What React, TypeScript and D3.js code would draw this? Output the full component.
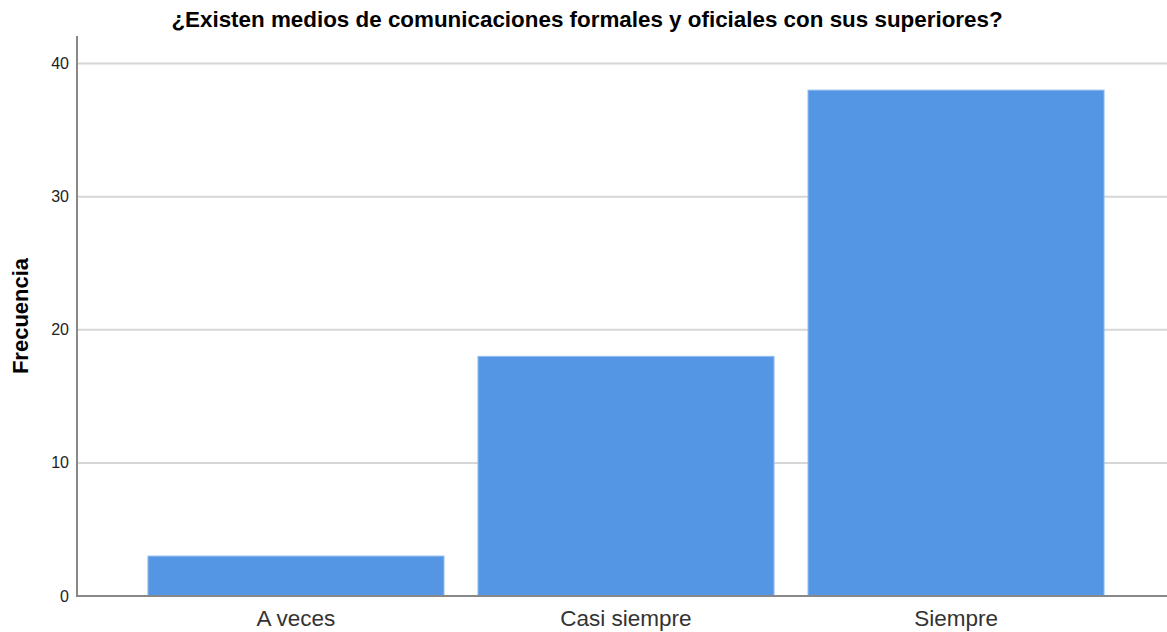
import React from "react";
import * as d3 from "d3";

const categories = ["A veces", "Casi siempre", "Siempre"];
const values = [3, 18, 38];
const yTicks = [0, 10, 20, 30, 40];
const title = "¿Existen medios de comunicaciones formales y oficiales con sus superiores?";
const yLabel = "Frecuencia";

export default function App() {
  const W = 1167, H = 632;
  const x = d3.scaleBand<string>().domain(categories).range([77, 1175]).paddingInner(0.103).paddingOuter(0.215);
  const y = d3.scaleLinear().domain([0, 40]).range([596, 63.5]);
  const font = "'Liberation Sans', Arial, sans-serif";
  return (
    <svg width={W} height={H} style={{ position: "absolute", left: 0, top: 0, background: "#fff" }}>
      <text x={587} y={27} textAnchor="middle" fontFamily={font} fontWeight="bold" fontSize={22.4} fill="#000">{title}</text>
      {yTicks.filter(t => t > 0).map(t => (
        <line key={t} x1={77} x2={W} y1={y(t)} y2={y(t)} stroke="#d6d6d6" strokeWidth={2} />
      ))}
      {categories.map((c, i) => (
        <rect key={c} x={x(c)!} y={y(values[i])} width={x.bandwidth()} height={y(0) - y(values[i])} fill="#5596E4" stroke="#8fbcf0" strokeWidth={1} />
      ))}
      <line x1={77} x2={77} y1={36} y2={596} stroke="#888" strokeWidth={2} />
      <line x1={76} x2={W} y1={596} y2={596} stroke="#888" strokeWidth={2} />
      {yTicks.map(t => (
        <text key={t} x={69} y={y(t) + 5.5} textAnchor="end" fontFamily={font} fontSize={16} fill="#222">{t}</text>
      ))}
      {categories.map(c => (
        <text key={c} x={x(c)! + x.bandwidth() / 2} y={626} textAnchor="middle" fontFamily={font} fontSize={22.5} fill="#333">{c}</text>
      ))}
      <text transform={`translate(28,316) rotate(-90)`} textAnchor="middle" fontFamily={font} fontWeight="bold" fontSize={22} fill="#000">{yLabel}</text>
    </svg>
  );
}
